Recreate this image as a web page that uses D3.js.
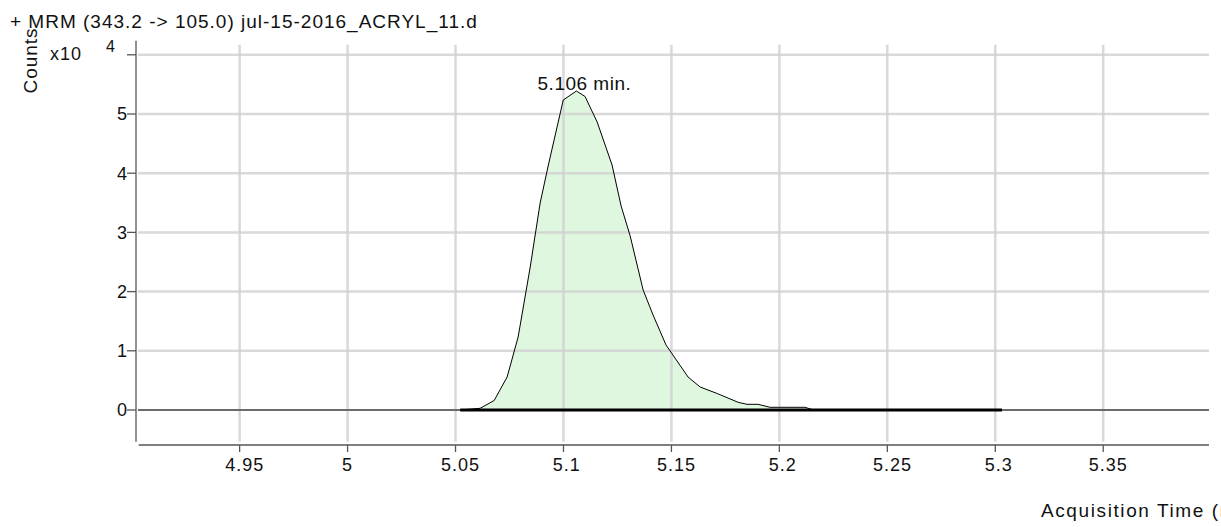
<!DOCTYPE html>
<html>
<head>
<meta charset="utf-8">
<script src="https://cdn.jsdelivr.net/npm/d3@7"></script>
<style>
  html, body { margin: 0; padding: 0; background: #fff; overflow: hidden; }
  svg { display: block; font-family: "Liberation Sans", Arial, sans-serif; }
</style>
</head>
<body>
<svg id="chart" width="1221" height="527"></svg>
<script>
// ---- data ----
const titleText = "+ MRM (343.2 -> 105.0) jul-15-2016_ACRYL_11.d";
const xLabelText = "Acquisition Time (min)";
const yLabelText = "Counts";
const peakLabel = "5.106 min.";
const peakTime = 5.106;
const xTicks = [4.95, 5.0, 5.05, 5.1, 5.15, 5.2, 5.25, 5.3, 5.35];
const xTickLabels = ["4.95", "5", "5.05", "5.1", "5.15", "5.2", "5.25", "5.3", "5.35"];
const yTicks = [0, 10000, 20000, 30000, 40000, 50000, 60000];
const yTickLabels = ["0", "1", "2", "3", "4", "5", ""];
const yExponent = "4";
const times = [5.0522, 5.0614, 5.0679, 5.0739, 5.0790, 5.0846, 5.0892, 5.0929, 5.0999, 5.1060,
               5.1100, 5.1156, 5.1225, 5.1267, 5.1309, 5.1369, 5.1415, 5.1475, 5.1577, 5.1633,
               5.1712, 5.1809, 5.1850, 5.1901, 5.1957, 5.2119, 5.2151, 5.2180, 5.3031];
const counts = [0, 287, 1605, 5574, 12331, 24155, 34966, 41216, 52365, 53885,
                52956, 48649, 41385, 34459, 29392, 20270, 16047, 10980, 5574, 3885,
                2787, 1301, 963, 963, 456, 456, 84, 0, 0];
const xDomain = [4.902, 5.399];
const yDomain = [-5355, 62382];

// ---- layout ----
const svg = d3.select("#chart");
const x = d3.scaleLinear().domain(xDomain).range([136, 1209]);
const y = d3.scaleLinear().domain(yDomain).range([441.7, 40.7]);
const plotTop = 40.7, plotBottom = 441.7, plotLeft = 138, plotRight = 1209;

const data = times.map((t, i) => ({ t, c: counts[i] }));

// peak fill (semi-transparent so grid shows through)
svg.append("path")
  .datum(data)
  .attr("d", d3.area().x(d => x(d.t)).y0(y(0)).y1(d => y(d.c)))
  .attr("fill", "rgb(192,240,192)")
  .attr("fill-opacity", 0.5)
  .attr("stroke", "none");

// grid
const grid = svg.append("g");
grid.selectAll("line.v").data(xTicks).join("line")
  .attr("x1", d => x(d)).attr("x2", d => x(d))
  .attr("y1", plotTop + 4).attr("y2", plotBottom)
  .attr("stroke", "#cfcfcf").attr("stroke-opacity", 0.8).attr("stroke-width", 2.5);
grid.selectAll("line.h").data(yTicks.filter(d => d !== 0)).join("line")
  .attr("x1", plotLeft).attr("x2", plotRight)
  .attr("y1", d => y(d)).attr("y2", d => y(d))
  .attr("stroke", "#cfcfcf").attr("stroke-opacity", 0.8).attr("stroke-width", 2.5);

// zero line
svg.append("line")
  .attr("x1", plotLeft).attr("x2", plotRight)
  .attr("y1", y(0)).attr("y2", y(0))
  .attr("stroke", "#6b6b6b").attr("stroke-width", 2);

// thick baseline of the trace
svg.append("line")
  .attr("x1", x(times[0])).attr("x2", x(times[times.length - 1]))
  .attr("y1", y(0)).attr("y2", y(0))
  .attr("stroke", "#000").attr("stroke-width", 3);

// trace line
svg.append("path")
  .datum(data)
  .attr("d", d3.line().x(d => x(d.t)).y(d => y(d.c)))
  .attr("fill", "none").attr("stroke", "#000").attr("stroke-width", 1);

// x axis
const xAxisG = svg.append("g").attr("transform", "translate(0,445)");
xAxisG.append("line").attr("x1", 138.7).attr("x2", plotRight).attr("y1", 0).attr("y2", 0)
  .attr("stroke", "#555").attr("stroke-width", 1.3);
xAxisG.selectAll("line.t").data(xTicks).join("line")
  .attr("x1", d => x(d)).attr("x2", d => x(d)).attr("y1", 0).attr("y2", 7)
  .attr("stroke", "#555").attr("stroke-width", 1.3);
xAxisG.selectAll("text").data(xTicks).join("text")
  .attr("x", d => x(d))
  .attr("dx", (d, i) => (xTickLabels[i].length - 1) * 1.7)
  .attr("y", 25.7)
  .attr("text-anchor", "middle")
  .attr("font-size", 18).attr("letter-spacing", 1).attr("fill", "#111")
  .text((d, i) => xTickLabels[i]);

// y axis
const yAxisG = svg.append("g").attr("transform", "translate(136,0)");
yAxisG.append("line").attr("x1", 0).attr("x2", 0).attr("y1", plotTop).attr("y2", plotBottom)
  .attr("stroke", "#555").attr("stroke-width", 1.3);
yAxisG.selectAll("line.t").data(yTicks).join("line")
  .attr("x1", -9).attr("x2", 0).attr("y1", d => y(d)).attr("y2", d => y(d))
  .attr("stroke", "#555").attr("stroke-width", 1.3);
yAxisG.selectAll("text").data(yTicks).join("text")
  .attr("x", -9).attr("y", d => y(d)).attr("dy", "0.36em")
  .attr("text-anchor", "end")
  .attr("font-size", 18).attr("fill", "#111")
  .text((d, i) => yTickLabels[i]);

// multiplier
svg.append("text").attr("x", 50).attr("y", 60)
  .attr("font-size", 18).attr("letter-spacing", 1).attr("fill", "#111").text("x10");
svg.append("text").attr("x", 106).attr("y", 51.7)
  .attr("font-size", 16).attr("fill", "#111").text(yExponent);

// y label
svg.append("text")
  .attr("transform", "translate(36.5,60.5) rotate(-90)")
  .attr("text-anchor", "middle")
  .attr("font-size", 19).attr("letter-spacing", 1).attr("fill", "#111")
  .text(yLabelText);

// title
svg.append("text").attr("x", 10).attr("y", 28.3)
  .attr("font-size", 19).attr("letter-spacing", 1).attr("fill", "#111")
  .text(titleText);

// peak label
const peakCount = d3.max(counts);
svg.append("text")
  .attr("x", x(peakTime) + 8).attr("y", y(peakCount) - 1)
  .attr("text-anchor", "middle")
  .attr("font-size", 19).attr("letter-spacing", 0.5).attr("fill", "#111")
  .text(peakLabel);

// x label (clipped at the right edge, as in the reference)
svg.append("text").attr("x", 1041).attr("y", 516.7)
  .attr("font-size", 19).attr("letter-spacing", 1.6).attr("fill", "#111")
  .text(xLabelText);
</script>
</body>
</html>
